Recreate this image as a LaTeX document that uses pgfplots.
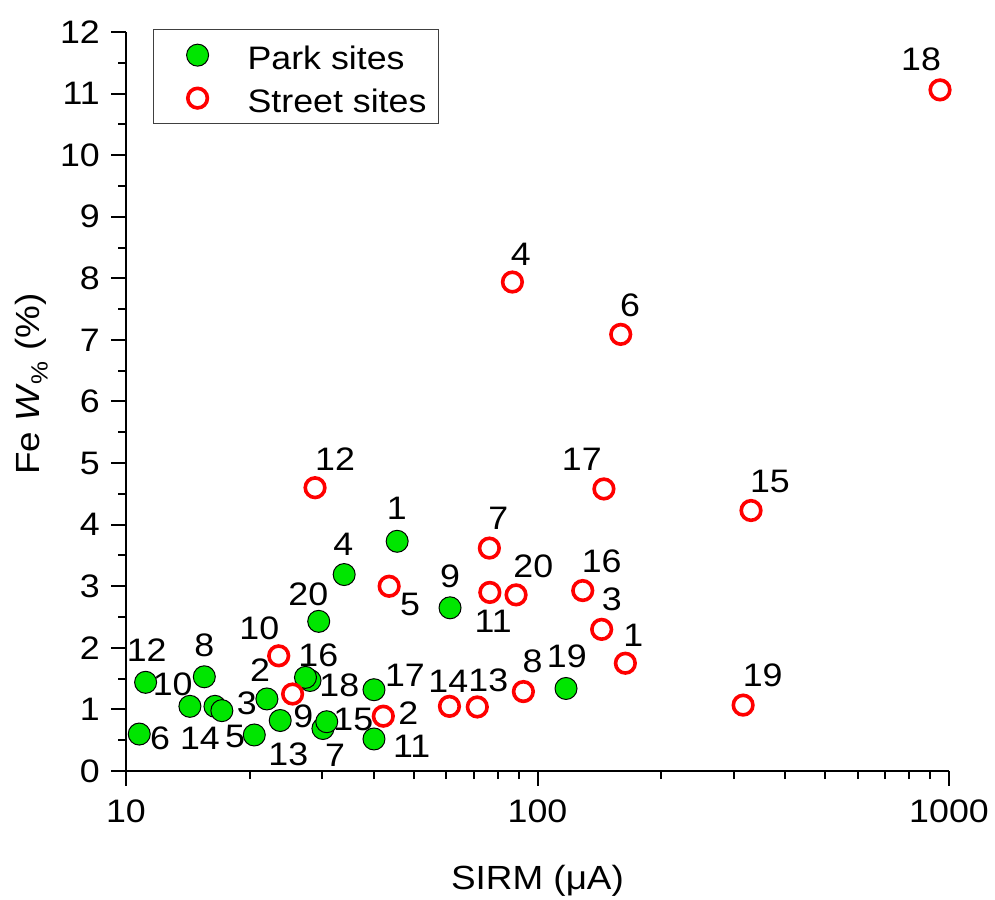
\documentclass[border=0pt]{standalone}
\usepackage{fontspec}
\setmainfont{Liberation Sans}[FakeStretch=1.1]
\usepackage{pgfplots}
\pgfplotsset{compat=1.18}
\definecolor{parkgreen}{RGB}{0,230,0}
\newcommand{\lfont}{\fontsize{32.5}{39}\selectfont}
\newcommand{\lb}[3]{\node[font=\lfont,inner sep=0pt,anchor=center] at (axis cs:#1,#2) {#3};}
\begin{document}
\begin{tikzpicture}
\begin{axis}[
  scale only axis, width=823pt, height=739pt,
  xmode=log, xmin=10, xmax=1000, ymin=0, ymax=12,
  axis x line*=bottom, axis y line*=left,
  axis line style={line width=2pt, black},
  tick style={line width=2pt, black},
  tick align=outside,
  major tick length=15pt, minor tick length=8pt,
  xtick={10,100,1000}, xticklabels={10,100,1000},
  minor xtick={20,30,40,50,60,70,80,90,200,300,400,500,600,700,800,900},
  ytick={0,1,2,3,4,5,6,7,8,9,10,11,12},
  yticklabels={0,1,2,3,4,5,6,7,8,9,10,11,12},
  minor ytick={0.5,1.5,2.5,3.5,4.5,5.5,6.5,7.5,8.5,9.5,10.5,11.5},
  ticklabel style={font=\lfont},
  xticklabel style={anchor=base, inner sep=0pt, yshift=-37pt},
  yticklabel style={anchor=east, inner sep=0pt, xshift=-11pt},
  xlabel={SIRM (μA)},
  ylabel={Fe \textit{W}\textsubscript{\%} (\%)},
  label style={font=\fontsize{33.5}{40}\selectfont, inner sep=0pt},
  xlabel style={at={(axis description cs:0.5,-0.1597)}, anchor=base},
  ylabel style={at={(axis description cs:-0.1045,0.5237)}, anchor=base, rotate=0},
  clip=false,
  legend style={at={(axis description cs:0.0328,1.004)}, anchor=north west,
    draw=black!75, line width=1.2pt, inner xsep=10pt, inner ysep=8pt,
    font=\lfont, cells={anchor=west}, column sep=36pt, row sep=8pt,
    nodes={inner sep=2pt, text height=30pt, text depth=1pt}},
  legend image code/.code={\path[draw=none,fill=none] (-34pt,0pt) -- (12pt,0pt); \draw[#1] plot coordinates {(0pt,0pt)};},
]
\addplot[only marks, mark=*, mark size=11pt,
  mark options={fill=parkgreen, draw=black, line width=1pt}] coordinates {
  (11.16,1.44) (15.5,1.53) (14.3,1.05) (16.45,1.05) (17.1,0.98)
  (10.77,0.60) (20.5,0.585) (22.0,1.17) (23.7,0.82) (28.0,1.47)
  (27.3,1.52) (29.4,2.43) (33.9,3.19) (30.1,0.69) (30.75,0.80)
  (40.05,1.32) (40.05,0.52) (45.6,3.73) (61.3,2.65) (117.3,1.34)
};
\addlegendentry{Park sites}
\addplot[only marks, mark=o, mark size=9.8pt,
  mark options={draw=red, line width=3.6pt}] coordinates {
  (951,11.06) (86.9,7.94) (159.3,7.09) (28.8,4.60) (145,4.58)
  (330.3,4.23) (76.4,3.62) (76.6,2.90) (88.7,2.86) (128.8,2.93)
  (143.2,2.30) (163.5,1.75) (316,1.07) (92.4,1.29) (61.1,1.05)
  (71.4,1.04) (43.6,3.0) (42.2,0.89) (23.5,1.87) (25.4,1.25)
};
\addlegendentry{Street sites}
% park labels
\lb{11.23}{1.956}{12}
\lb{12.99}{1.415}{10}
\lb{15.50}{2.049}{8}
\lb{15.13}{0.532}{14}
\lb{19.65}{1.101}{3}
\lb{12.10}{0.532}{6}
\lb{18.40}{0.558}{5}
\lb{21.17}{1.642}{2}
\lb{24.80}{0.276}{13}
\lb{29.33}{1.886}{16}
\lb{32.99}{1.398}{18}
\lb{27.73}{2.862}{20}
\lb{35.67}{0.829}{15}
\lb{32.21}{0.260}{7}
\lb{47.64}{1.561}{17}
\lb{49.47}{0.395}{11}
\lb{33.74}{3.675}{4}
\lb{45.48}{4.271}{1}
\lb{61.29}{3.159}{9}
\lb{117.8}{1.859}{19}
% street labels
\lb{26.97}{0.894}{9}
\lb{48.53}{0.938}{2}
\lb{49.00}{2.699}{5}
\lb{21.09}{2.320}{10}
\lb{32.21}{5.057}{12}
\lb{78.09}{2.428}{11}
\lb{80.30}{4.109}{7}
\lb{97.68}{3.322}{20}
\lb{143.2}{3.403}{16}
\lb{151.5}{2.780}{3}
\lb{170.9}{2.211}{1}
\lb{97.34}{1.777}{8}
\lb{60.70}{1.452}{14}
\lb{75.93}{1.480}{13}
\lb{128.1}{5.068}{17}
\lb{367.3}{4.704}{15}
\lb{352.6}{1.561}{19}
\lb{91.05}{8.390}{4}
\lb{167.8}{7.561}{6}
\lb{855.1}{11.561}{18}
\path (rel axis cs:0,0) ++(-126pt,-128pt) rectangle ++(995pt,899pt);
\end{axis}
\end{tikzpicture}
\end{document}
